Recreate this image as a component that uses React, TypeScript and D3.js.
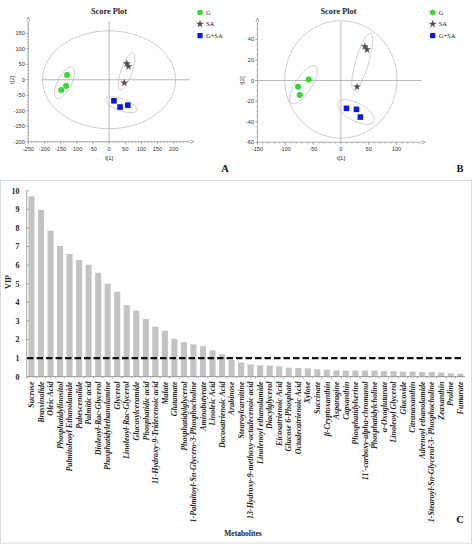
import React from "react";
import * as d3 from "d3";

// ---------- Panel C data ----------
const metabolites = [
  "Sucrose", "Brassinolide", "Oleic Acid", "Phosphatidylinositol", "Palmitoleoyl Ethanolamide",
  "Pubescenolide", "Palmitic acid", "Dioleoyl-Rac-Glycerol", "Phosphatidylethanolamine", "Glycerol",
  "Linoleoyl-Rac-Glycerol", "Glucosylceramide", "Phosphatidic acid", "11-Hydroxy-9-Tridecenoic acid", "Malate",
  "Glutamate", "Phosphatidylglycerol", "1-Palmitoyl-Sn-Glycero-3-Phosphocholine", "Aminobutyrate", "Linoleic Acid",
  "Docosatrienoic Acid", "Arabinose", "Stearoylcarnitine", "13-Hydroxy-9-methoxy-octadecenoic acid", "Linolenoyl ethanolamide",
  "Diacylglycerol", "Eicosatrienoic Acid", "Glucose 6-Phosphate", "Octadecatrienoic Acid", "Xylose",
  "Succinate", "β-Cryptoxanthin", "Asparagine", "Capsanthin", "Phosphatidylserine",
  "11'-carboxy-alpha-chromanol", "Phosphatidylcholine", "α-Oxoglutarate", "Linoleoyl Glycerol", "Glucoside",
  "Citranaxanthin", "Adrenoyl ethanolamide", "1-Stearoyl-Sn-Glycerol-3- Phosphocholine", "Zeaxanthin", "Proline",
  "Fumarate",
];
const vipValues = [
  9.7, 8.96, 7.85, 7.03, 6.6, 6.27, 6.02, 5.59, 5.0, 4.57,
  3.85, 3.55, 3.1, 2.69, 2.47, 2.04, 1.85, 1.74, 1.64, 1.42,
  1.2, 0.9, 0.77, 0.66, 0.61, 0.6, 0.56, 0.48, 0.47, 0.45,
  0.4, 0.38, 0.34, 0.33, 0.33, 0.33, 0.33, 0.3, 0.3, 0.27,
  0.28, 0.25, 0.25, 0.23, 0.18, 0.16,
];
const vipTicks = [0, 1, 2, 3, 4, 5, 6, 7, 8, 9, 10];
const vipThreshold = 1;

// ---------- Panel A data ----------
const groupNames = ["G", "SA", "G+SA"];
const scoreA_G = [[-130, 15], [-133, -20], [-148, -33]];
const scoreA_SA = [[55, 52], [60, 43], [47, -10]];
const scoreA_GSA = [[15, -68], [34, -88], [58, -82]];
const xTicksA = [-250, -200, -150, -100, -50, 0, 50, 100, 150, 200];
const yTicksA = [-200, -150, -100, -50, 0, 50, 100, 150];
// ellipses: [cx, cy, ax, ay, bx, by] in data units (center + two semi-axis vectors)
const ellipsesA = [
  [0, 0, 206, 0, 0, 158],
  [-137.8, -9.7, 24.8, 50, 19.2, -10.3],
  [54.2, 27.4, 20.1, 59.7, 16.1, -5.8],
  [38.1, -80.6, 48, -18.1, -6.3, -18.2],
];

// ---------- Panel B data ----------
const scoreB_G = [[-58, 1], [-77, -6], [-74, -14]];
const scoreB_SA = [[43, 33], [47, 30], [29, -6]];
const scoreB_GSA = [[10, -27], [28, -28], [35, -35.5]];
const xTicksB = [-150, -100, -50, 0, 50, 100];
const yTicksB = [-60, -40, -20, 0, 20, 40];
const ellipsesB = [
  [0, 1, 101, 0, 0, 57],
  [-67.3, -4.1, 21.6, 18.1, 12.1, -4.2],
  [38.3, 18, 15, 27.9, 11.2, -1.76],
  [27.2, -30.6, 31.8, -9.1, -7.6, -7.7],
];

const GREEN = "#2fdc2f";
const BROWN = "#5c4c46";
const BLUE = "#0c18e0";
const SANS = "'Liberation Sans', Arial, sans-serif";
const SERIF = "'Liberation Serif', 'Times New Roman', serif";

type Sc = d3.ScaleLinear<number, number>;

function ellipsePath(e: number[], sx: Sc, sy: Sc) {
  const [cx, cy, ax, ay, bx, by] = e;
  const pts: [number, number][] = d3.range(0, 73).map((i) => {
    const t = (i / 72) * Math.PI * 2;
    return [sx(cx + ax * Math.cos(t) + bx * Math.sin(t)), sy(cy + ay * Math.cos(t) + by * Math.sin(t))];
  });
  return d3.line()(pts) + "Z";
}

const starPath = d3.symbol(d3.symbolStar, 20)() as string;

function ScorePlot(props: {
  sx: Sc; sy: Sc; xTicks: number[]; yTicks: number[]; xMinor: number; yMinor: number;
  xEnd: number; yEnd: number; hStart: number;
  g: number[][]; sa: number[][]; gsa: number[][]; ellipses: number[][];
  titleX: number; legendX: number; panel: string; panelX: number;
}) {
  const { sx, sy, xTicks, yTicks, xMinor, yMinor, xEnd, yEnd, hStart, g, sa, gsa, ellipses } = props;
  const xd = sx.domain(), yd = sy.domain();
  const ax = sx(xd[0]);
  const ay = sy(yd[0]);
  const axisCol = "#8a8a8a";
  const minorX = d3.range(xd[0], xd[1] + 0.001 + (sx.invert(xEnd) - xd[1]) - 4, xMinor);
  const minorY = d3.range(yd[0], yd[1] + 0.001 + (sy.invert(yEnd) - yd[1]) - 4, yMinor);
  return (
    <g>
      <text x={props.titleX} y={14} fontFamily={SERIF} fontWeight="bold" fontSize={8.3} textAnchor="middle" fill="#222">Score Plot</text>
      {/* crosshair */}
      <line x1={hStart} x2={xEnd} y1={sy(0)} y2={sy(0)} stroke="#9a9a9a" strokeWidth={0.7} />
      <line x1={sx(0)} x2={sx(0)} y1={yEnd} y2={ay} stroke="#9a9a9a" strokeWidth={0.7} />
      {/* ellipses */}
      {ellipses.map((e, i) => (
        <path key={i} d={ellipsePath(e, sx, sy)} fill="none" stroke="#b8b8b8" strokeWidth={0.7} />
      ))}
      {/* axes */}
      <line x1={ax} x2={xEnd} y1={ay} y2={ay} stroke={axisCol} strokeWidth={0.7} />
      <path d={`M${xEnd},${ay - 1.6}L${xEnd + 4},${ay}L${xEnd},${ay + 1.6}`} fill="none" stroke={axisCol} strokeWidth={0.7} />
      <line x1={ax} x2={ax} y1={ay} y2={yEnd} stroke={axisCol} strokeWidth={0.7} />
      <path d={`M${ax - 1.6},${yEnd}L${ax},${yEnd - 4}L${ax + 1.6},${yEnd}`} fill="none" stroke={axisCol} strokeWidth={0.7} />
      {minorX.map((v, i) => (
        <line key={"mx" + i} x1={sx(v)} x2={sx(v)} y1={ay} y2={ay + 1.3} stroke={axisCol} strokeWidth={0.5} />
      ))}
      {minorY.map((v, i) => (
        <line key={"my" + i} x1={ax - 1.3} x2={ax} y1={sy(v)} y2={sy(v)} stroke={axisCol} strokeWidth={0.5} />
      ))}
      {xTicks.map((v) => (
        <g key={"x" + v}>
          <line x1={sx(v)} x2={sx(v)} y1={ay} y2={ay + 2.6} stroke={axisCol} strokeWidth={0.6} />
          <text x={sx(v)} y={ay + 9} fontFamily={SANS} fontSize={5.6} textAnchor="middle" fill="#333">{v}</text>
        </g>
      ))}
      {yTicks.map((v) => (
        <g key={"y" + v}>
          <line x1={ax - 2.6} x2={ax} y1={sy(v)} y2={sy(v)} stroke={axisCol} strokeWidth={0.6} />
          <text x={ax - 3.5} y={sy(v) + 2} fontFamily={SANS} fontSize={5.6} textAnchor="end" fill="#333">{v}</text>
        </g>
      ))}
      <text x={sx(0)} y={ay + 18} fontFamily={SANS} fontSize={6} textAnchor="middle" fill="#333">t[1]</text>
      <text transform={`translate(${ax - 14},${sy(0)}) rotate(-90)`} fontFamily={SANS} fontSize={6} textAnchor="middle" fill="#333">t[2]</text>
      {/* points */}
      {g.map((p, i) => (
        <circle key={"g" + i} cx={sx(p[0])} cy={sy(p[1])} r={3} fill={GREEN} />
      ))}
      {sa.map((p, i) => (
        <path key={"s" + i} d={starPath} transform={`translate(${sx(p[0])},${sy(p[1])})`} fill={BROWN} />
      ))}
      {gsa.map((p, i) => (
        <rect key={"q" + i} x={sx(p[0]) - 2.8} y={sy(p[1]) - 2.8} width={5.6} height={5.6} fill={BLUE} />
      ))}
      {/* legend */}
      <circle cx={props.legendX} cy={12.5} r={2.8} fill={GREEN} />
      <path d={starPath} transform={`translate(${props.legendX},${24})`} fill={BROWN} />
      <rect x={props.legendX - 2.6} y={33} width={5.2} height={5.2} fill={BLUE} />
      {groupNames.map((n, i) => (
        <text key={n} x={props.legendX + 6} y={14.8 + i * 11.5} fontFamily={SERIF} fontSize={6.5} fill="#222">{n}</text>
      ))}
      <text x={props.panelX} y={172} fontFamily={SERIF} fontWeight="bold" fontSize={10.5} textAnchor="middle" fill="#111">{props.panel}</text>
    </g>
  );
}

export default function App() {
  // Panel A scales
  const sxA = d3.scaleLinear().domain([-250, 200]).range([28.3, 173.7]);
  const syA = d3.scaleLinear().domain([-200, 150]).range([141.7, 33.3]);
  // Panel B scales
  const sxB = d3.scaleLinear().domain([-150, 100]).range([257.5, 396.5]);
  const syB = d3.scaleLinear().domain([-60, 40]).range([142.3, 39.3]);

  // Panel C scales
  const xC = d3.scaleBand<string>().domain(metabolites).range([26.7, 465]).paddingInner(0.36).paddingOuter(0.18);
  const yC = d3.scaleLinear().domain([0, 10]).range([376.7, 190.7]);
  const y0 = yC(0);

  return (
    <svg width={474} height={547} style={{ position: "fixed", left: 0, top: 0, background: "#fff" }}>
      <rect x={0} y={0} width={474} height={547} fill="#fff" />
      <ScorePlot sx={sxA} sy={syA} xTicks={xTicksA} yTicks={yTicksA} xMinor={10} yMinor={10}
        xEnd={190} yEnd={21} hStart={41.5}
        g={scoreA_G} sa={scoreA_SA} gsa={scoreA_GSA} ellipses={ellipsesA}
        titleX={109} legendX={200} panel="A" panelX={225} />
      <ScorePlot sx={sxB} sy={syB} xTicks={xTicksB} yTicks={yTicksB} xMinor={10} yMinor={5}
        xEnd={421.5} yEnd={22} hStart={258}
        g={scoreB_G} sa={scoreB_SA} gsa={scoreB_GSA} ellipses={ellipsesB}
        titleX={338.5} legendX={432.7} panel="B" panelX={460} />

      {/* Panel C frame */}
      <rect x={0.5} y={180.5} width={471} height={362.5} fill="none" stroke="#dcdcdc" strokeWidth={1} />

      {/* bars */}
      {metabolites.map((m, i) => (
        <rect key={m} x={xC(m)} y={yC(vipValues[i])} width={xC.bandwidth()} height={y0 - yC(vipValues[i])} fill="#c3c3c3" />
      ))}
      {/* y axis */}
      <line x1={26.7} x2={26.7} y1={yC(10)} y2={y0} stroke="#8c8c8c" strokeWidth={0.8} />
      {vipTicks.map((t) => (
        <g key={t}>
          <line x1={26.7} x2={29} y1={yC(t)} y2={yC(t)} stroke="#8c8c8c" strokeWidth={0.7} />
          <text x={19.5} y={yC(t) + 2.8} fontFamily={SERIF} fontWeight="bold" fontSize={8} textAnchor="end" fill="#222">{t}</text>
        </g>
      ))}
      <text transform={`translate(${10.5},${282}) rotate(-90)`} fontFamily={SERIF} fontWeight="bold" fontSize={8} textAnchor="middle" fill="#222">VIP</text>
      {/* x axis */}
      <line x1={26.7} x2={465} y1={y0} y2={y0} stroke="#8c8c8c" strokeWidth={0.9} />
      {metabolites.map((m) => (
        <line key={"t" + m} x1={(xC(m) as number) - (xC.step() - xC.bandwidth()) / 2} x2={(xC(m) as number) - (xC.step() - xC.bandwidth()) / 2}
          y1={y0} y2={y0 + 2} stroke="#8c8c8c" strokeWidth={0.6} />
      ))}
      {/* threshold line */}
      <line x1={27} x2={463} y1={yC(vipThreshold)} y2={yC(vipThreshold)} stroke="#111" strokeWidth={2.4} strokeDasharray="6.5,3" />
      {/* x labels */}
      {metabolites.map((m) => {
        const cx = (xC(m) as number) + xC.bandwidth() / 2 + 2.7;
        return (
          <text key={"l" + m} transform={`translate(${cx},${381.5}) rotate(-90)`} fontFamily={SERIF} fontWeight="bold" fontStyle="italic"
            fontSize={8} textAnchor="end" fill="#222">{m}</text>
        );
      })}
      <text x={243} y={536} fontFamily={SERIF} fontWeight="bold" fontSize={7.5} textAnchor="middle" fill="#222">Metabolites</text>
      <text x={460} y={523} fontFamily={SERIF} fontWeight="bold" fontSize={10.5} textAnchor="middle" fill="#111">C</text>
    </svg>
  );
}
